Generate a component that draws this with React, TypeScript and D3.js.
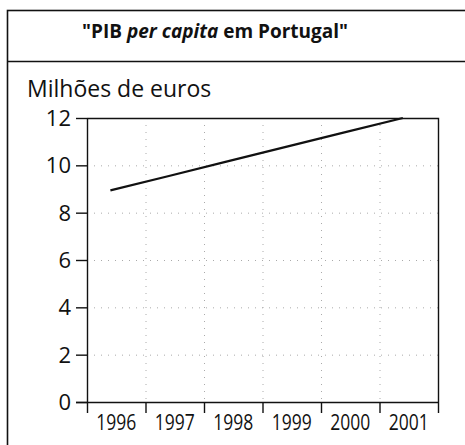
import { useEffect, useRef } from "react"
import * as d3 from "d3"

const years = ["1996", "1997", "1998", "1999", "2000", "2001"]
const pib = [8.94, 9.55, 10.17, 10.78, 11.39, 12.0]
const yTicks = [0, 2, 4, 6, 8, 10, 12]

const W = 465
const H = 445
const FONT = "'Open Sans', 'DejaVu Sans', sans-serif"

export default function App() {
  const svgRef = useRef<SVGSVGElement>(null)

  useEffect(() => {
    if (!svgRef.current) return
    const svg = d3.select(svgRef.current)
    svg.selectAll("*").remove()

    const left = 87
    const right = 438
    const top = 118
    const bottom = 402

    const x = d3.scaleBand<string>().domain(years).range([left, right]).padding(0)
    const y = d3.scaleLinear().domain([0, 12]).range([bottom, top])
    const bw = x.bandwidth()

    // outer frame (runs off the page right and bottom)
    svg.append("rect")
      .attr("x", 7.5).attr("y", 10.5)
      .attr("width", 470).attr("height", 450)
      .attr("fill", "none").attr("stroke", "#111").attr("stroke-width", 1.6)
    svg.append("line")
      .attr("x1", 7).attr("x2", W).attr("y1", 61.5).attr("y2", 61.5)
      .attr("stroke", "#111").attr("stroke-width", 1.6)

    // title
    const title = svg.append("text")
      .attr("x", 215).attr("y", 38)
      .attr("text-anchor", "middle")
      .attr("font-family", FONT).attr("font-size", 19).attr("font-weight", 700)
      .attr("fill", "#111")
    title.append("tspan").text("\"PIB ")
    title.append("tspan").attr("font-style", "italic").text("per capita")
    title.append("tspan").text(" em Portugal\"")

    svg.append("text")
      .attr("x", 27).attr("y", 97)
      .attr("font-family", FONT).attr("font-size", 23)
      .attr("fill", "#111")
      .text("Milhões de euros")

    // dotted grid
    const grid = svg.append("g").attr("stroke", "#aaa").attr("stroke-width", 1)
      .attr("stroke-dasharray", "1,6")
    grid.selectAll("line.h")
      .data(yTicks.filter((t) => t > 0 && t < 12))
      .join("line")
      .attr("class", "h")
      .attr("x1", left).attr("x2", right)
      .attr("y1", (d) => y(d) + 0.5).attr("y2", (d) => y(d) + 0.5)
    grid.selectAll("line.v")
      .data(years.slice(1))
      .join("line")
      .attr("class", "v")
      .attr("x1", (d) => x(d)! + 0.5).attr("x2", (d) => x(d)! + 0.5)
      .attr("y1", top).attr("y2", bottom)

    // plot frame top + right
    svg.append("path")
      .attr("d", `M${left},${top + 0.5}H${right + 0.5}V${bottom}`)
      .attr("fill", "none").attr("stroke", "#111").attr("stroke-width", 1.4)

    // y axis
    const yAxis = svg.append("g")
    yAxis.append("line")
      .attr("x1", left + 0.5).attr("x2", left + 0.5)
      .attr("y1", top).attr("y2", bottom + 11)
      .attr("stroke", "#111").attr("stroke-width", 1.4)
    yAxis.selectAll("line.tick")
      .data(yTicks)
      .join("line")
      .attr("class", "tick")
      .attr("x1", 76).attr("x2", left)
      .attr("y1", (d) => y(d) + 0.5).attr("y2", (d) => y(d) + 0.5)
      .attr("stroke", "#111").attr("stroke-width", 1.4)
    yAxis.selectAll("text")
      .data(yTicks)
      .join("text")
      .attr("x", 71)
      .attr("y", (d) => y(d))
      .attr("dy", "0.36em")
      .attr("text-anchor", "end")
      .attr("font-family", FONT).attr("font-size", 22)
      .attr("fill", "#111")
      .text((d) => d)

    // x axis
    const xAxis = svg.append("g")
    xAxis.append("line")
      .attr("x1", 76).attr("x2", right + 0.5)
      .attr("y1", bottom + 0.5).attr("y2", bottom + 0.5)
      .attr("stroke", "#111").attr("stroke-width", 1.4)
    xAxis.selectAll("line.tick")
      .data([...years.slice(1), "end"])
      .join("line")
      .attr("class", "tick")
      .attr("x1", (d) => (d === "end" ? right : x(d)!) + 0.5)
      .attr("x2", (d) => (d === "end" ? right : x(d)!) + 0.5)
      .attr("y1", bottom).attr("y2", bottom + 11)
      .attr("stroke", "#111").attr("stroke-width", 1.4)
    xAxis.selectAll("text")
      .data(years)
      .join("text")
      .attr("x", (d) => x(d)! + bw / 2)
      .attr("y", 430)
      .attr("text-anchor", "middle")
      .attr("font-family", FONT).attr("font-size", 21)
      .attr("textLength", 40).attr("lengthAdjust", "spacingAndGlyphs")
      .attr("fill", "#111")
      .text((d) => d)

    // data line
    const line = d3.line<number>()
      .x((_, i) => x(years[i])! + bw * 0.4)
      .y((d) => y(d))
    svg.append("path")
      .datum(pib)
      .attr("d", line)
      .attr("fill", "none").attr("stroke", "#111").attr("stroke-width", 2.2)
  }, [])

  return (
    <svg
      ref={svgRef}
      width={W}
      height={H}
      style={{ position: "absolute", left: 0, top: 0, background: "#fff" }}
    />
  )
}
